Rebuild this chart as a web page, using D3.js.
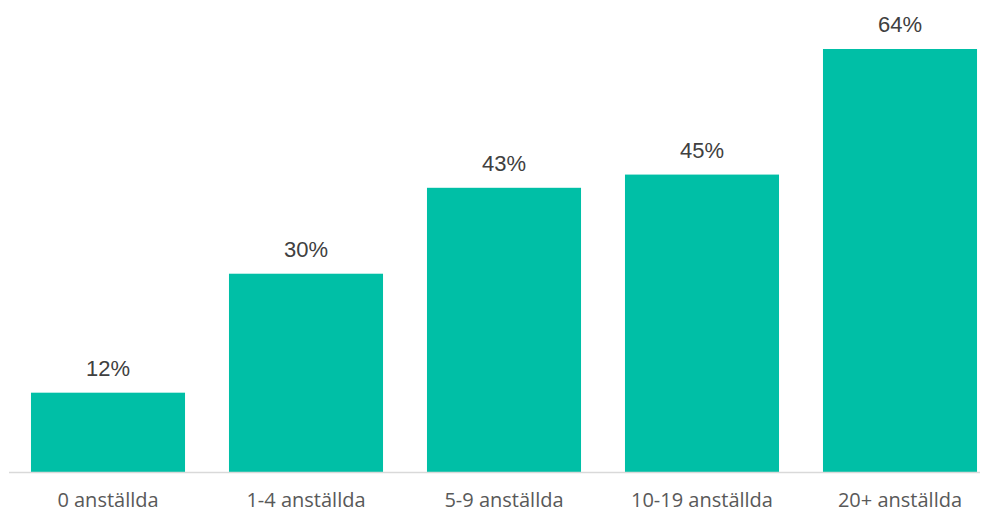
<!DOCTYPE html>
<html>
<head>
<meta charset="utf-8">
<script src="https://cdn.jsdelivr.net/npm/d3@7"></script>
<style>
  body { margin: 0; background: #fff; }
</style>
</head>
<body>
<div id="chart"></div>
<script>
var categories = ["0 anställda", "1-4 anställda", "5-9 anställda", "10-19 anställda", "20+ anställda"];
var values = [12, 30, 43, 45, 64];

var width = 982, height = 512;
var baseline = 472;

var svg = d3.select("#chart")
	.append("svg")
	.attr("width", width)
	.attr("height", height);

var x = d3.scaleBand()
	.domain(categories)
	.range([9, 999])
	.paddingInner(0.222)
	.paddingOuter(0.111);

// 64% sits at y=49
var y = d3.scaleLinear()
	.domain([0, 64])
	.range([baseline, 49]);

svg.selectAll("rect.bar")
	.data(values)
	.enter()
	.append("rect")
	.attr("class", "bar")
	.attr("x", function (d, i) { return x(categories[i]); })
	.attr("y", function (d) { return y(d); })
	.attr("width", x.bandwidth())
	.attr("height", function (d) { return baseline - y(d); })
	.style("fill", "#00BFA6");

// axis line
svg.append("line")
	.attr("x1", 9)
	.attr("x2", 980)
	.attr("y1", baseline + 0.5)
	.attr("y2", baseline + 0.5)
	.style("stroke", "#d9d9d9")
	.style("stroke-width", 1.5);

// value labels
svg.selectAll("text.val")
	.data(values)
	.enter()
	.append("text")
	.attr("class", "val")
	.attr("x", function (d, i) { return x(categories[i]) + x.bandwidth() / 2; })
	.attr("y", function (d) { return y(d) - 17; })
	.attr("text-anchor", "middle")
	.style("font-family", "'Liberation Sans', Arial, sans-serif")
	.style("font-size", "22px")
	.style("fill", "#404040")
	.text(function (d) { return d + "%"; });

// category labels
svg.selectAll("text.cat")
	.data(categories)
	.enter()
	.append("text")
	.attr("class", "cat")
	.attr("x", function (d) { return x(d) + x.bandwidth() / 2; })
	.attr("y", 507)
	.attr("text-anchor", "middle")
	.style("font-family", "'Open Sans', 'Noto Sans', sans-serif")
	.style("font-size", "20px")
	.style("fill", "#595959")
	.text(function (d) { return d; });
</script>
</body>
</html>
